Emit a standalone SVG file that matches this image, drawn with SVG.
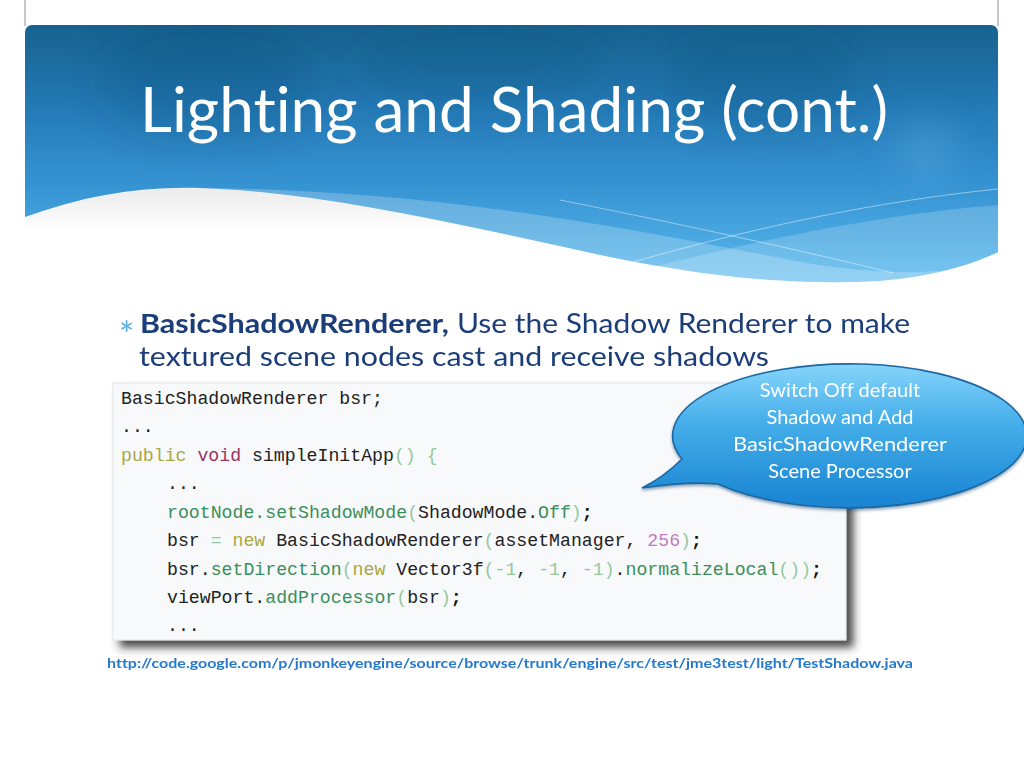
<svg xmlns="http://www.w3.org/2000/svg" width="1024" height="768" viewBox="0 0 1024 768">
  <defs>
    <linearGradient id="hdrGrad" x1="0" y1="25" x2="0" y2="290" gradientUnits="userSpaceOnUse">
      <stop offset="0" stop-color="#17628f"/>
      <stop offset="0.3" stop-color="#2379b4"/>
      <stop offset="0.6" stop-color="#3693d2"/>
      <stop offset="1" stop-color="#5cbcf0"/>
    </linearGradient>
    <linearGradient id="waveGrad" x1="0" y1="186" x2="0" y2="232" gradientUnits="userSpaceOnUse">
      <stop offset="0" stop-color="#ebebeb"/>
      <stop offset="1" stop-color="#ffffff"/>
    </linearGradient>
    <linearGradient id="calloutGrad" x1="0" y1="358" x2="0" y2="502" gradientUnits="userSpaceOnUse">
      <stop offset="0" stop-color="#8cd8fc"/>
      <stop offset="0.45" stop-color="#45aeea"/>
      <stop offset="1" stop-color="#1a86d3"/>
    </linearGradient>
    <clipPath id="hdrClip">
      <rect x="25" y="25" width="973" height="290" rx="7" ry="7"/>
    </clipPath>
    <filter id="soft" x="-50%" y="-50%" width="200%" height="200%">
      <feGaussianBlur stdDeviation="18"/>
    </filter>
    <filter id="boxShadow" x="-5%" y="-5%" width="115%" height="120%">
      <feDropShadow dx="7" dy="7" stdDeviation="4" flood-color="#2a2a2a" flood-opacity="0.85"/>
    </filter>
    <filter id="calloutShadow" x="-5%" y="-10%" width="110%" height="125%">
      <feDropShadow dx="0" dy="2" stdDeviation="1.5" flood-color="#0b3a66" flood-opacity="0.45"/>
    </filter>
    <style>
      .ui { font-family: Lato, "Open Sans", "Liberation Sans", sans-serif; font-variant-ligatures: none; }
      .code { font-family: "Liberation Mono", "DejaVu Sans Mono", monospace; font-size: 18.2px; fill: #222222; }
      .k { fill: #a8a843; }
      .v { fill: #993360; }
      .m { fill: #3a8f5c; }
      .p { fill: #93c8a0; }
      .n { fill: #c27bc2; }
      .sc { fill: #111111; font-weight: bold; }
      .body { fill: #1b3d78; font-size: 27px; }
      .callText { fill: #ffffff; font-size: 20px; }
    </style>
  </defs>

  <rect x="0" y="0" width="1024" height="768" fill="#ffffff"/>

  <g id="header">
    <line x1="25" y1="0" x2="25" y2="26" stroke="#b5b5b5" stroke-width="1.5"/>
    <line x1="998" y1="0" x2="998" y2="26" stroke="#b5b5b5" stroke-width="1.5"/>
    <g clip-path="url(#hdrClip)">
      <rect x="25" y="25" width="973" height="275" fill="url(#hdrGrad)"/>
      <g filter="url(#soft)">
        <ellipse cx="210" cy="80" rx="110" ry="60" fill="#0d3f66" opacity="0.18"/>
        <ellipse cx="480" cy="65" rx="130" ry="40" fill="#0d3f66" opacity="0.14"/>
        <ellipse cx="760" cy="80" rx="100" ry="50" fill="#0d3f66" opacity="0.16"/>
        <ellipse cx="925" cy="150" rx="30" ry="24" fill="#6ab4e4" opacity="0.35"/>
      </g>
      <path d="M200,188 C420,190 600,222 780,258 C860,274 930,278 998,262 L998,310 L200,310 Z" fill="#ffffff" opacity="0.22"/>
      <path d="M560,292 C700,252 860,216 998,205 L998,310 L560,310 Z" fill="#ffffff" opacity="0.18"/>
      <path d="M560,200 C680,224 800,250 893,273" fill="none" stroke="#ffffff" stroke-opacity="0.45" stroke-width="1"/>
      <path d="M633,262 C760,226 880,201 998,189" fill="none" stroke="#ffffff" stroke-opacity="0.45" stroke-width="1"/>
      <path d="M20,219 C80,196 140,186 200,188 C320,192 450,222 600,255 C700,276 790,286 880,281 C930,277 970,266 1003,250 L1003,320 L20,320 Z" fill="url(#waveGrad)"/>
    </g>
  </g>

  <g id="title">
    <text class="ui" x="140" y="132" font-size="62" fill="#ffffff" textLength="748" lengthAdjust="spacingAndGlyphs">Lighting and Shading (cont.)</text>
  </g>

  <g id="bullet">
    <text class="ui" x="119" y="348" font-size="36" fill="#5ab4e2">*</text>
    <text class="ui body" x="140" y="333" font-weight="bold" textLength="309" lengthAdjust="spacingAndGlyphs">BasicShadowRenderer,</text>
    <text class="ui body" x="457" y="333" textLength="453" lengthAdjust="spacingAndGlyphs">Use the Shadow Renderer to make</text>
    <text class="ui body" x="139" y="366" textLength="630" lengthAdjust="spacingAndGlyphs">textured scene nodes cast and receive shadows</text>
  </g>

  <g id="code-box">
    <rect x="113" y="383" width="733" height="257" fill="#f8f9fb" stroke="#e2e4e8" stroke-width="1" filter="url(#boxShadow)"/>
    <g xml:space="preserve">
      <text class="code" x="121" y="404">BasicShadowRenderer bsr;</text>
      <text class="code" x="121" y="432">...</text>
      <text class="code" x="121" y="461"><tspan class="k">public</tspan> <tspan class="v">void</tspan> simpleInitApp<tspan class="p">()</tspan> <tspan class="p">{</tspan></text>
      <text class="code" x="167" y="489">...</text>
      <text class="code" x="167" y="518"><tspan class="m">rootNode.setShadowMode</tspan><tspan class="p">(</tspan>ShadowMode.<tspan class="m">Off</tspan><tspan class="p">)</tspan><tspan class="sc">;</tspan></text>
      <text class="code" x="167" y="546">bsr <tspan class="p">=</tspan> <tspan class="k">new</tspan> BasicShadowRenderer<tspan class="p">(</tspan>assetManager, <tspan class="n">256</tspan><tspan class="p">)</tspan><tspan class="sc">;</tspan></text>
      <text class="code" x="167" y="575">bsr.<tspan class="m">setDirection</tspan><tspan class="p">(</tspan><tspan class="k">new</tspan> Vector3f<tspan class="p">(-1</tspan>, <tspan class="p">-1</tspan>, <tspan class="p">-1)</tspan>.<tspan class="m">normalizeLocal</tspan><tspan class="p">())</tspan><tspan class="sc">;</tspan></text>
      <text class="code" x="167" y="603">viewPort.<tspan class="m">addProcessor</tspan><tspan class="p">(</tspan>bsr<tspan class="p">)</tspan><tspan class="sc">;</tspan></text>
      <text class="code" x="167" y="631">...</text>
    </g>
  </g>

  <g id="callout">
    <path d="M682,459 Q664,477 642,488 Q688,481 718,484 A177,72 0 1 0 682,459 Z" fill="url(#calloutGrad)" stroke="#1c67a3" stroke-width="1.6" filter="url(#calloutShadow)"/>
    <text class="ui callText" x="840" y="397" text-anchor="middle">Switch Off default</text>
    <text class="ui callText" x="840" y="424" text-anchor="middle">Shadow and Add</text>
    <text class="ui callText" x="840" y="451" text-anchor="middle" textLength="214" lengthAdjust="spacingAndGlyphs">BasicShadowRenderer</text>
    <text class="ui callText" x="840" y="478" text-anchor="middle">Scene Processor</text>
  </g>

  <g id="source-link">
    <text class="ui" x="107" y="668" font-size="14" font-weight="bold" fill="#2479cf" textLength="806" lengthAdjust="spacingAndGlyphs">http://code.google.com/p/jmonkeyengine/source/browse/trunk/engine/src/test/jme3test/light/TestShadow.java</text>
  </g>
</svg>
